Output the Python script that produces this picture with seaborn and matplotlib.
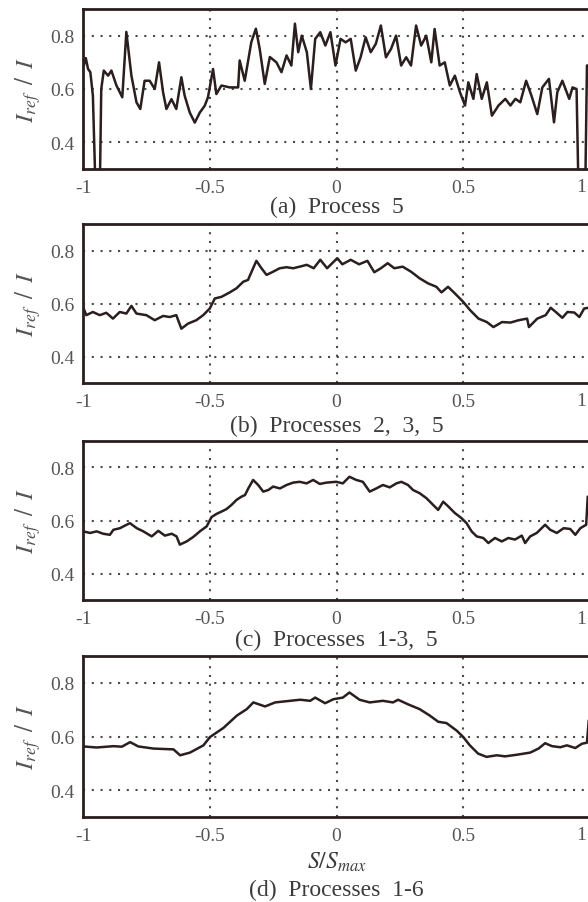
import matplotlib
matplotlib.use("Agg")
import matplotlib.pyplot as plt
import seaborn as sns
import pandas as pd

# Normalised arc position S/S_max and intensity ratio I_ref / I for each process set
x_a = [-0.997, -0.989, -0.980, -0.971, -0.961, -0.950, -0.934, -0.928, -0.918, -0.901,
       -0.888, -0.868, -0.845, -0.829, -0.809, -0.789, -0.774, -0.757, -0.737, -0.717,
       -0.700, -0.684, -0.671, -0.651, -0.632, -0.612, -0.599, -0.579, -0.559, -0.539,
       -0.520, -0.507, -0.487, -0.474, -0.454, -0.421, -0.388, -0.382, -0.362, -0.336,
       -0.318, -0.303, -0.283, -0.263, -0.237, -0.217, -0.197, -0.178, -0.164, -0.151,
       -0.137, -0.117, -0.101, -0.084, -0.064, -0.044, -0.024, -0.004, 0.016, 0.036,
       0.056, 0.076, 0.095, 0.115, 0.135, 0.155, 0.175, 0.195, 0.215, 0.235,
       0.255, 0.275, 0.294, 0.314, 0.334, 0.354, 0.374, 0.387, 0.407, 0.427,
       0.447, 0.467, 0.487, 0.507, 0.520, 0.540, 0.553, 0.573, 0.593, 0.613,
       0.639, 0.666, 0.686, 0.706, 0.725, 0.748, 0.769, 0.792, 0.812, 0.838,
       0.858, 0.871, 0.891, 0.918, 0.931, 0.947, 0.955, 0.981, 0.988, 1.000]
y_a = [0.688, 0.716, 0.675, 0.663, 0.575, 0.200, 0.200, 0.600, 0.669, 0.650,
       0.669, 0.613, 0.569, 0.814, 0.650, 0.550, 0.525, 0.631, 0.631, 0.600,
       0.700, 0.587, 0.525, 0.562, 0.525, 0.644, 0.575, 0.512, 0.474, 0.512,
       0.537, 0.569, 0.675, 0.581, 0.613, 0.606, 0.606, 0.707, 0.631, 0.776,
       0.826, 0.751, 0.619, 0.720, 0.700, 0.663, 0.726, 0.688, 0.845, 0.738,
       0.800, 0.738, 0.600, 0.788, 0.813, 0.763, 0.813, 0.688, 0.788, 0.775,
       0.788, 0.669, 0.719, 0.794, 0.738, 0.769, 0.838, 0.719, 0.750, 0.800,
       0.688, 0.719, 0.688, 0.838, 0.763, 0.800, 0.700, 0.825, 0.688, 0.700,
       0.613, 0.650, 0.588, 0.538, 0.625, 0.563, 0.656, 0.563, 0.625, 0.500,
       0.538, 0.563, 0.538, 0.563, 0.550, 0.631, 0.575, 0.506, 0.606, 0.638,
       0.475, 0.588, 0.631, 0.563, 0.606, 0.600, 0.200, 0.200, 0.688, 0.690]

x_b = [-1.000, -0.987, -0.961, -0.934, -0.908, -0.882, -0.855, -0.829, -0.809, -0.789,
       -0.750, -0.717, -0.684, -0.658, -0.632, -0.612, -0.586, -0.553, -0.526, -0.500,
       -0.480, -0.454, -0.421, -0.395, -0.368, -0.349, -0.329, -0.316, -0.296, -0.276,
       -0.250, -0.224, -0.197, -0.171, -0.145, -0.117, -0.090, -0.064, -0.037, 0.003,
       0.023, 0.056, 0.089, 0.122, 0.149, 0.175, 0.202, 0.228, 0.261, 0.294,
       0.328, 0.361, 0.394, 0.414, 0.440, 0.467, 0.500, 0.527, 0.560, 0.593,
       0.619, 0.653, 0.686, 0.719, 0.752, 0.759, 0.792, 0.825, 0.845, 0.865,
       0.891, 0.911, 0.938, 0.958, 0.977, 1.000]
y_b = [0.587, 0.556, 0.568, 0.556, 0.565, 0.543, 0.568, 0.562, 0.591, 0.562,
       0.556, 0.537, 0.553, 0.549, 0.556, 0.505, 0.524, 0.537, 0.556, 0.581,
       0.619, 0.625, 0.642, 0.657, 0.682, 0.689, 0.733, 0.761, 0.733, 0.708,
       0.720, 0.733, 0.737, 0.733, 0.739, 0.746, 0.733, 0.765, 0.733, 0.771,
       0.748, 0.765, 0.748, 0.761, 0.718, 0.733, 0.752, 0.733, 0.739, 0.720,
       0.695, 0.676, 0.663, 0.642, 0.663, 0.638, 0.606, 0.575, 0.543, 0.530,
       0.511, 0.530, 0.528, 0.537, 0.543, 0.511, 0.543, 0.556, 0.584, 0.568,
       0.546, 0.568, 0.566, 0.549, 0.581, 0.585]

x_c = [-0.999, -0.972, -0.946, -0.920, -0.894, -0.880, -0.854, -0.834, -0.815, -0.788,
       -0.762, -0.729, -0.703, -0.677, -0.650, -0.631, -0.618, -0.591, -0.565, -0.539,
       -0.512, -0.493, -0.473, -0.453, -0.434, -0.414, -0.394, -0.375, -0.361, -0.348,
       -0.329, -0.309, -0.289, -0.269, -0.250, -0.223, -0.197, -0.171, -0.145, -0.118,
       -0.092, -0.066, -0.039, -0.001, 0.025, 0.051, 0.078, 0.104, 0.131, 0.157,
       0.183, 0.210, 0.236, 0.256, 0.282, 0.302, 0.328, 0.355, 0.381, 0.401,
       0.421, 0.441, 0.467, 0.493, 0.513, 0.533, 0.553, 0.579, 0.599, 0.625,
       0.652, 0.678, 0.704, 0.731, 0.744, 0.764, 0.790, 0.823, 0.843, 0.869,
       0.896, 0.922, 0.942, 0.962, 0.985, 0.991]
y_c = [0.559, 0.553, 0.559, 0.550, 0.546, 0.565, 0.571, 0.581, 0.590, 0.571,
       0.559, 0.540, 0.561, 0.543, 0.550, 0.540, 0.509, 0.521, 0.538, 0.559,
       0.578, 0.613, 0.625, 0.634, 0.643, 0.659, 0.678, 0.690, 0.696, 0.721,
       0.753, 0.734, 0.709, 0.715, 0.728, 0.721, 0.734, 0.743, 0.746, 0.740,
       0.753, 0.738, 0.743, 0.746, 0.740, 0.765, 0.753, 0.746, 0.709, 0.721,
       0.734, 0.725, 0.740, 0.746, 0.734, 0.715, 0.703, 0.684, 0.659, 0.640,
       0.671, 0.653, 0.628, 0.609, 0.590, 0.559, 0.540, 0.534, 0.515, 0.534,
       0.521, 0.534, 0.528, 0.543, 0.515, 0.540, 0.553, 0.584, 0.565, 0.553,
       0.571, 0.568, 0.546, 0.571, 0.584, 0.690]

x_d = [-0.999, -0.946, -0.880, -0.847, -0.814, -0.782, -0.722, -0.643, -0.617, -0.578,
       -0.525, -0.499, -0.446, -0.393, -0.354, -0.328, -0.282, -0.242, -0.183, -0.143,
       -0.104, -0.084, -0.045, -0.012, 0.025, 0.051, 0.091, 0.131, 0.183, 0.223,
       0.243, 0.282, 0.328, 0.368, 0.401, 0.434, 0.474, 0.500, 0.526, 0.559,
       0.592, 0.632, 0.665, 0.711, 0.764, 0.797, 0.823, 0.850, 0.883, 0.909,
       0.942, 0.968, 0.988, 0.995]
y_d = [0.563, 0.559, 0.564, 0.562, 0.579, 0.563, 0.555, 0.552, 0.530, 0.540,
       0.567, 0.598, 0.632, 0.678, 0.702, 0.727, 0.712, 0.727, 0.733, 0.737,
       0.733, 0.745, 0.724, 0.739, 0.745, 0.764, 0.737, 0.727, 0.733, 0.727,
       0.737, 0.720, 0.702, 0.678, 0.655, 0.650, 0.622, 0.598, 0.567, 0.536,
       0.524, 0.530, 0.526, 0.532, 0.540, 0.555, 0.575, 0.564, 0.560, 0.567,
       0.557, 0.573, 0.577, 0.660]

captions = ["(a)  Process  5", "(b)  Processes  2,  3,  5",
            "(c)  Processes  1-3,  5", "(d)  Processes  1-6"]
x_ticks = [-1, -0.5, 0, 0.5, 1]
x_tick_labels = ["-1", "-0.5", "0", "0.5", "1"]
y_ticks = [0.4, 0.6, 0.8]
y_tick_labels = ["0.4", "0.6", "0.8"]

sns.set_style("white")
plt.rcParams["font.family"] = ["Liberation Serif", "DejaVu Serif"]
plt.rcParams["mathtext.fontset"] = "stix"
plt.rcParams["axes.unicode_minus"] = False

W, H = 588, 903
fig = plt.figure(figsize=(W / 100, H / 100), dpi=100)
fig.patch.set_facecolor("white")

ink = "#2a1e1e"
label_col = "#555555"

# (top, bottom) pixel rows of each panel and the row of its caption
panels = [(10, 170, 207), (225, 384, 426), (442, 601, 640), (657, 818, 890)]
series = [(x_a, y_a), (x_b, y_b), (x_c, y_c), (x_d, y_d)]
left_px, right_px = 83, 590

for (top, bot, cap_y), (xs, ys), cap in zip(panels, series, captions):
    ax = fig.add_axes([left_px / W, 1 - bot / H, (right_px - left_px) / W, (bot - top) / H])
    df = pd.DataFrame({"s": xs, "ratio": ys})
    sns.lineplot(data=df, x="s", y="ratio", ax=ax, color=ink, linewidth=1.8,
                 sort=False, estimator=None)
    ax.set_xlim(-1, 1)
    ax.set_ylim(0.3, 0.9)
    ax.set_xticks(x_ticks)
    # the axis runs past the right figure edge, so its last label is placed by hand
    ax.set_xticklabels(x_tick_labels[:-1] + [""])
    ax.set_yticks(y_ticks)
    ax.set_yticklabels(y_tick_labels)
    ax.tick_params(axis="both", length=0, labelsize=14, labelcolor=label_col)
    ax.tick_params(axis="x", pad=7)
    ax.tick_params(axis="y", pad=6)
    ax.grid(True, linestyle=(0, (1, 3.2)), linewidth=1.5, color="#4a4a4a")
    for sp in ax.spines.values():
        sp.set_visible(True)
        sp.set_color(ink)
        sp.set_linewidth(2.0)
    ax.set_xlabel("")
    ax.set_ylabel("")
    fig.text(586 / W, 1 - (bot + 18) / H, x_tick_labels[-1], ha="right", va="center",
             fontsize=14, color=label_col)
    fig.text(28 / W, 1 - (top + bot) / 2 / H, r"$I_{ref}\ \,/\ \,I$", rotation=90,
             ha="center", va="center", fontsize=18, color=label_col)
    fig.text((left_px + right_px) / 2 / W, 1 - cap_y / H, cap,
             ha="center", va="center", fontsize=17, color="#3c3c3c")

fig.text((left_px + right_px) / 2 / W, 1 - 862 / H, r"$S/S_{max}$",
         ha="center", va="center", fontsize=17, color="#3c3c3c")

fig.savefig("out.png", dpi=100, facecolor="white")
